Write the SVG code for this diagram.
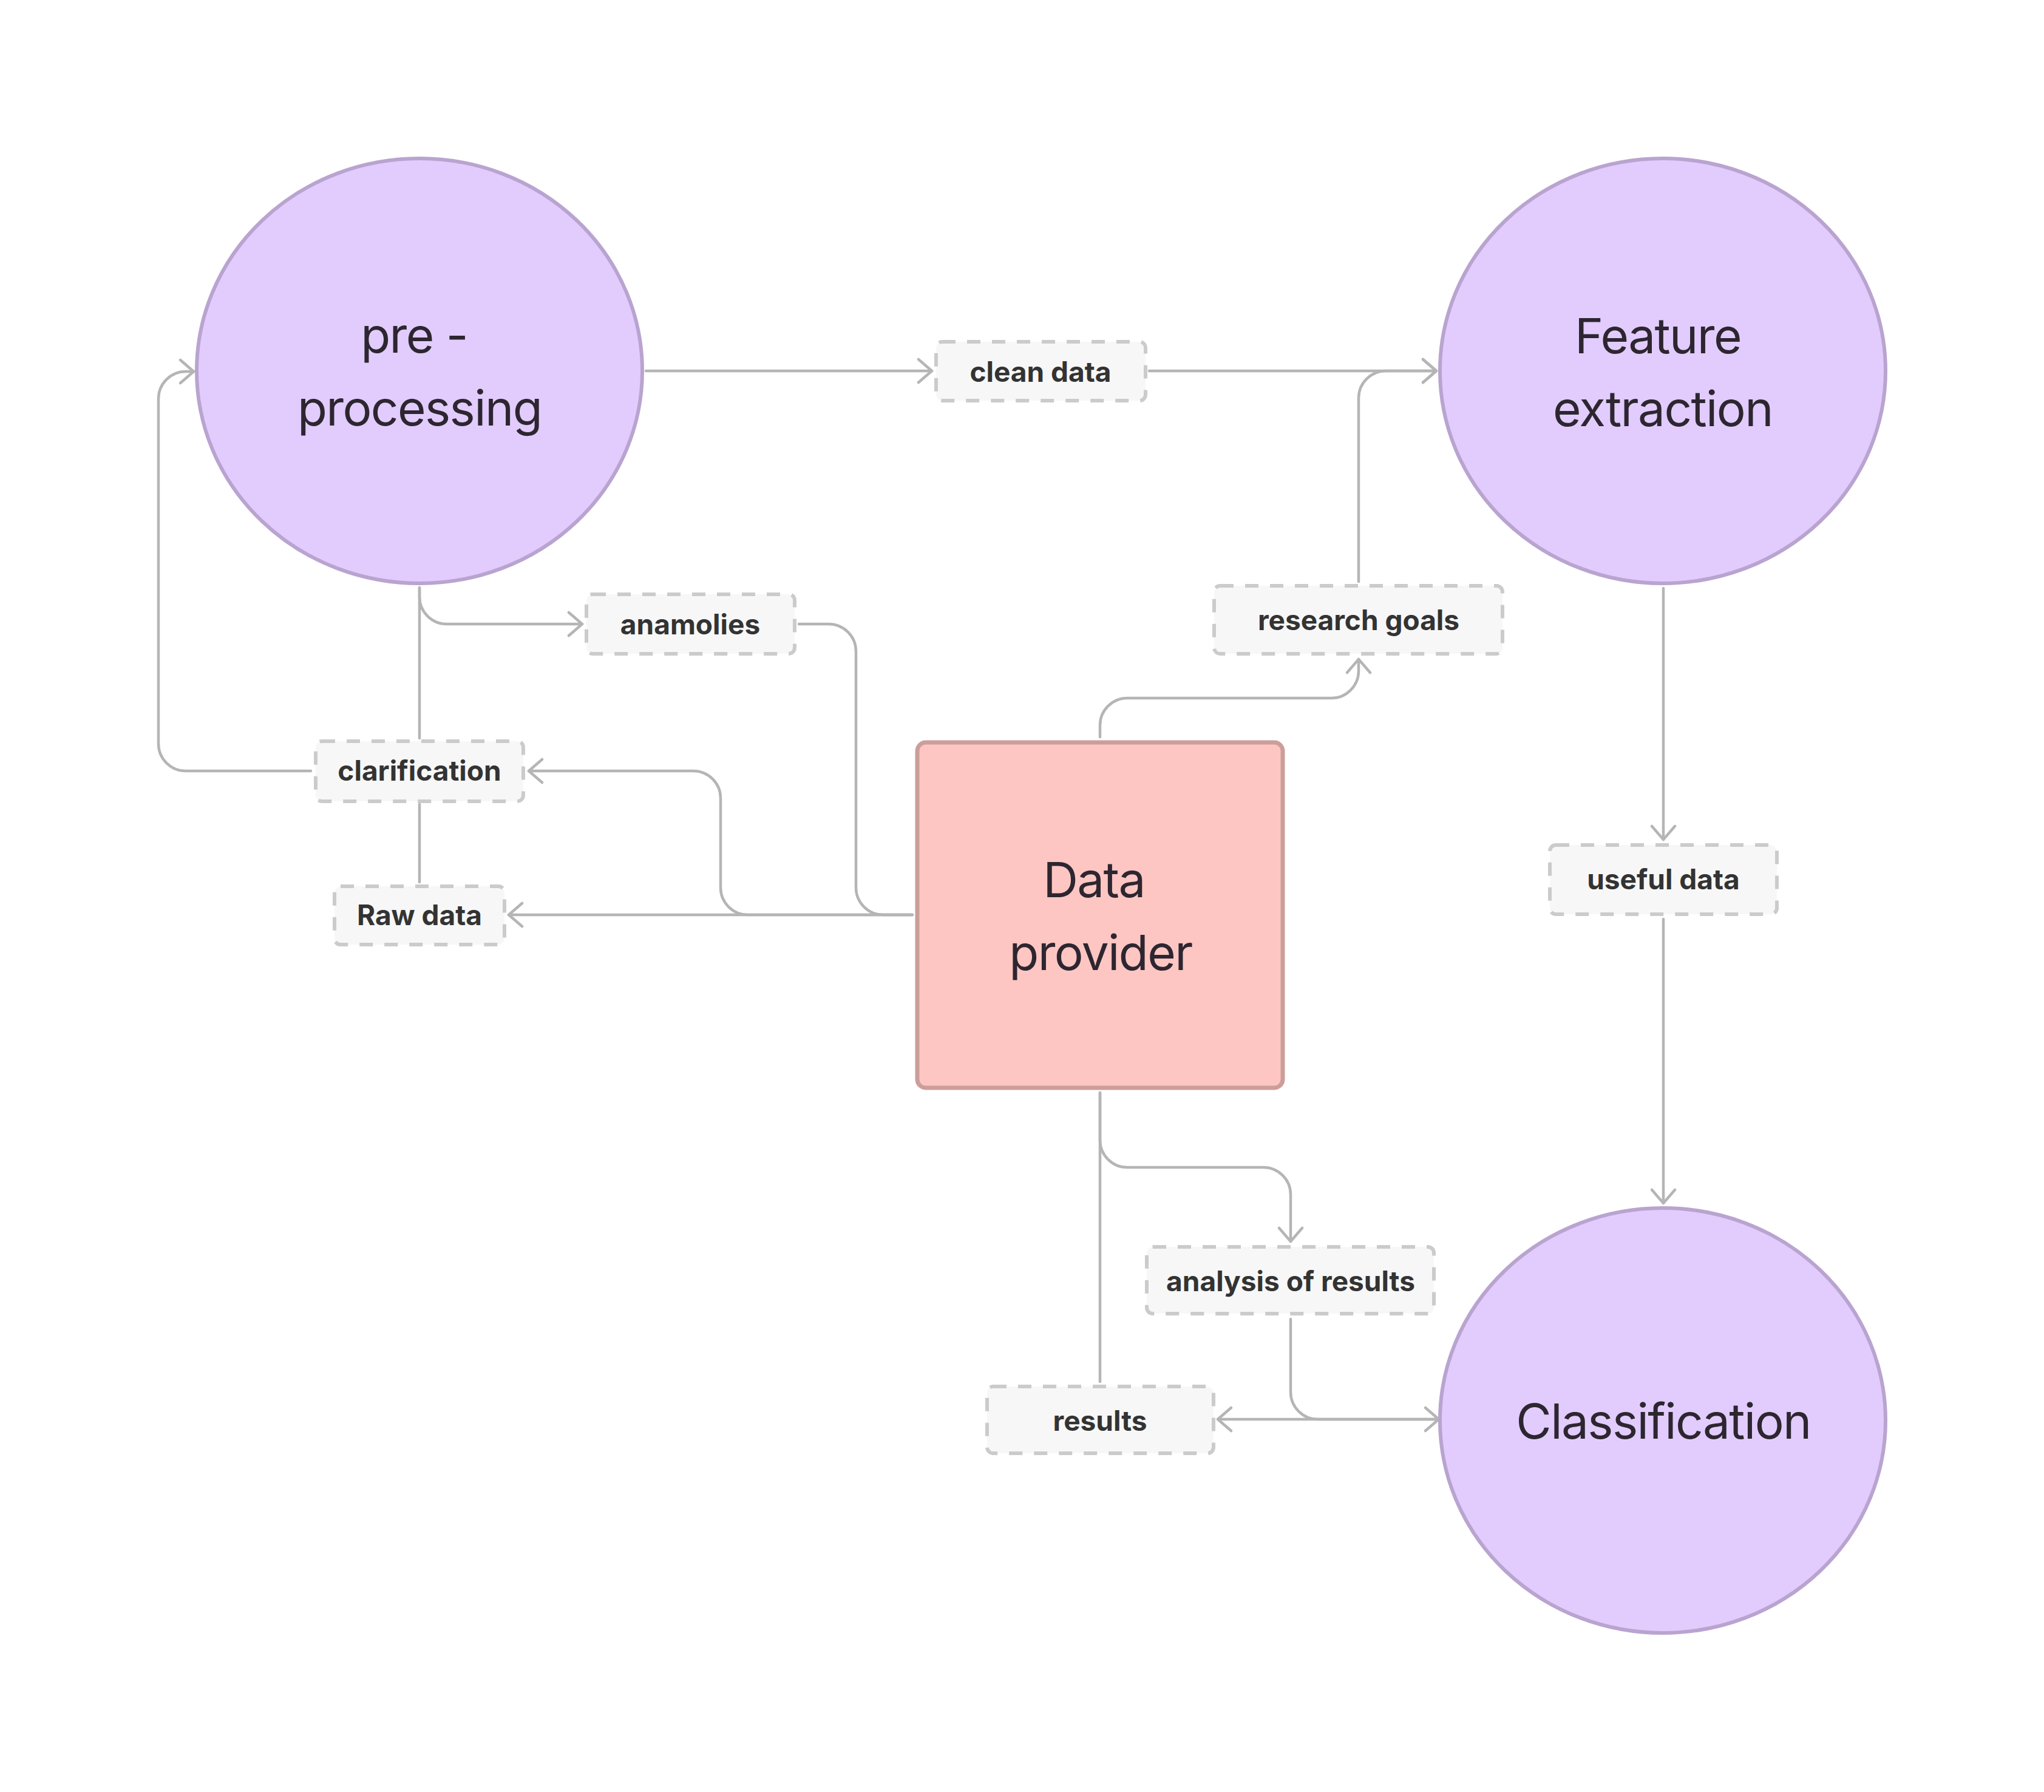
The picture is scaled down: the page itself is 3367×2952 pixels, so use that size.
<svg xmlns="http://www.w3.org/2000/svg" width="3367" height="2952" viewBox="0 0 3367 2952">
<style>
.bg{fill:#ffffff}
.proc{fill:#e2ccfd;stroke:#b9a4d0;stroke-width:6}
.prov{fill:#fdc6c2;stroke:#cc9e9a;stroke-width:7}
.big{font-family:Inter,"Noto Sans","Liberation Sans",sans-serif;font-size:80px;letter-spacing:-1.6px;fill:#2d2630;text-anchor:middle}
.lbl rect{fill:#f7f7f7;stroke:#cbcbcb;stroke-width:6;stroke-dasharray:22 19}
.lbl text{font-family:Inter,"Noto Sans","Liberation Sans",sans-serif;font-size:46px;font-weight:700;fill:#333333;text-anchor:middle}
.c{fill:none;stroke:#b5b5b5;stroke-width:4.5;stroke-linecap:round;stroke-linejoin:round}
.a{marker-end:url(#arr)}
</style>
<defs>
<marker id="arr" markerUnits="userSpaceOnUse" markerWidth="60" markerHeight="60" viewBox="-30 -30 60 60" refX="0" refY="0" orient="auto">
<path d="M-22,-19 L0,0 L-22,19" fill="none" stroke="#b5b5b5" stroke-width="4.5" stroke-linecap="round" stroke-linejoin="round"/>
</marker>
</defs>
<rect class="bg" x="0" y="0" width="3367" height="2952"/>

<g id="connectors">
<path class="c a" d="M1064 611 H1535"/>
<path class="c a" d="M1893 611 H2366"/>
<path class="c a" d="M2238 958 V656 A45 45 0 0 1 2283 611 H2366"/>
<path class="c a" d="M1812 1214 V1195 A45 45 0 0 1 1857 1150 H2193 A45 45 0 0 0 2238 1105 V1086"/>
<path class="c a" d="M691 968 V983 A45 45 0 0 0 736 1028 H959"/>
<path class="c" d="M691 968 V1216"/>
<path class="c" d="M691 1325 V1453"/>
<path class="c" d="M1316 1028 H1365 A45 45 0 0 1 1410 1073 V1462 A45 45 0 0 0 1455 1507 H1503"/>
<path class="c a" d="M1503 1507 H1232 A45 45 0 0 1 1187 1462 V1315 A45 45 0 0 0 1142 1270 H871"/>
<path class="c a" d="M1503 1507 H838"/>
<path class="c a" d="M512 1270 H306 A45 45 0 0 1 261 1225 V657 A45 45 0 0 1 306 612 H319"/>
<path class="c a" d="M2740 969 V1383"/>
<path class="c a" d="M2740 1514 V1982"/>
<path class="c" d="M1812 1800 V2276"/>
<path class="c a" d="M1812 1800 V1878 A45 45 0 0 0 1857 1923 H2081 A45 45 0 0 1 2126 1968 V2045"/>
<path class="c a" d="M2126 2173 V2293 A45 45 0 0 0 2171 2338 H2370"/>
<path class="c a" d="M2368 2338 H2006"/>
</g>

<g id="node-preprocessing">
<ellipse class="proc" cx="691" cy="611" rx="367" ry="350"/>
<text class="big" x="682" y="581">pre -</text>
<text class="big" x="691" y="701">processing</text>
</g>
<g id="node-feature">
<ellipse class="proc" cx="2739" cy="611" rx="367" ry="350"/>
<text class="big" x="2731" y="582">Feature</text>
<text class="big" x="2739" y="702">extraction</text>
</g>
<g id="node-classification">
<ellipse class="proc" cx="2739" cy="2340" rx="367" ry="350"/>
<text class="big" x="2740" y="2370">Classification</text>
</g>
<g id="node-dataprovider">
<rect class="prov" x="1511" y="1223" width="602" height="569" rx="14"/>
<text class="big" x="1802" y="1478">Data</text>
<text class="big" x="1813" y="1598">provider</text>
</g>

<g id="label-clean-data" class="lbl">
<rect x="1542" y="563" width="345" height="97" rx="10"/>
<text x="1714" y="629">clean data</text>
</g>
<g id="label-research-goals" class="lbl">
<rect x="2000" y="965" width="475" height="112" rx="10"/>
<text x="2238" y="1038">research goals</text>
</g>
<g id="label-anamolies" class="lbl">
<rect x="966" y="979" width="343" height="98" rx="10"/>
<text x="1137" y="1045">anamolies</text>
</g>
<g id="label-clarification" class="lbl">
<rect x="520" y="1221" width="342" height="99" rx="10"/>
<text x="691" y="1286">clarification</text>
</g>
<g id="label-raw-data" class="lbl">
<rect x="551" y="1460" width="280" height="96" rx="10"/>
<text x="691" y="1524">Raw data</text>
</g>
<g id="label-useful-data" class="lbl">
<rect x="2553" y="1392" width="374" height="114" rx="10"/>
<text x="2740" y="1465">useful data</text>
</g>
<g id="label-analysis" class="lbl">
<rect x="1889" y="2054" width="473" height="110" rx="10"/>
<text x="2126" y="2127">analysis of results</text>
</g>
<g id="label-results" class="lbl">
<rect x="1626" y="2284" width="373" height="110" rx="10"/>
<text x="1812" y="2357">results</text>
</g>
</svg>
